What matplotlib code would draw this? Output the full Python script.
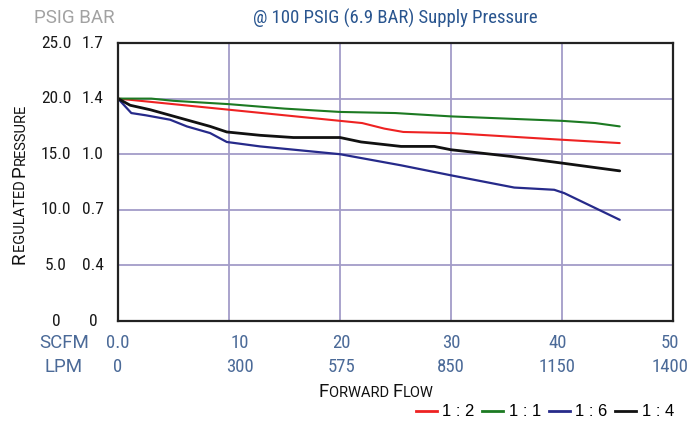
import numpy as np
import matplotlib
matplotlib.use("Agg")
import matplotlib.pyplot as plt
import matplotlib.transforms as mtransforms
from matplotlib.lines import Line2D

# flow in SCFM, pressure in PSIG
flow_11 = [0, 3, 5, 10, 15, 20, 25, 30, 35, 40, 43, 45.2]
psig_11 = [20.0, 20.0, 19.8, 19.5, 19.1, 18.8, 18.7, 18.4, 18.2, 18.0, 17.8, 17.5]

flow_12 = [0, 5, 10, 15, 20, 22, 24, 25.7, 30, 35, 40, 45.2]
psig_12 = [20.0, 19.5, 19.0, 18.5, 18.0, 17.8, 17.3, 17.0, 16.9, 16.6, 16.3, 16.0]

flow_14 = [0, 1.1, 2.9, 4.7, 6.5, 8.3, 9.8, 12.8, 15.8, 20, 21.9, 25.5, 28.5, 30, 35.4, 40, 45.2]
psig_14 = [20.0, 19.4, 19.0, 18.5, 18.0, 17.5, 17.0, 16.7, 16.5, 16.5, 16.1, 15.7, 15.7, 15.4, 14.8, 14.2, 13.5]

flow_16 = [0, 1.2, 2.5, 4.7, 6.2, 8.3, 9.8, 12.8, 20, 25.5, 30, 35.7, 39.3, 40.2, 45.2]
psig_16 = [20.0, 18.7, 18.5, 18.1, 17.5, 16.9, 16.1, 15.7, 15.0, 14.0, 13.1, 12.0, 11.8, 11.5, 9.1]

psig_ticks = [0, 5, 10, 15, 20, 25]
psig_labels = ["0", "5.0", "10.0", "15.0", "20.0", "25.0"]
bar_labels = ["0", "0.4", "0.7", "1.0", "1.4", "1.7"]

scfm_ticks = [0, 10, 20, 30, 40, 50]
scfm_labels = ["0.0", "10", "20", "30", "40", "50"]
lpm_labels = ["0", "300", "575", "850", "1150", "1400"]
label_shift = [0, 1.0, 0.1, 0, -0.4, -0.3]  # printed labels sit a bit off the grid

series = [
    ("1 : 2", flow_12, psig_12, "#ee2222", 1.5),
    ("1 : 1", flow_11, psig_11, "#1c7a22", 1.5),
    ("1 : 6", flow_16, psig_16, "#262a8a", 1.6),
    ("1 : 4", flow_14, psig_14, "#111111", 2.0),
]

narrow = ["Roboto Condensed", "DejaVu Sans"]
wide = ["Roboto", "DejaVu Sans"]
plain = ["Liberation Sans", "DejaVu Sans"]
slate = "#4b6a98"
W, H = 689, 421

fig = plt.figure(figsize=(W / 100, H / 100), dpi=100)
ax = fig.add_axes([118 / W, 1 - 321 / H, 555 / W, 278 / H])

for name, x, y, c, lw in series:
    ax.plot(x, y, color=c, lw=lw, solid_capstyle="round", solid_joinstyle="round")

ax.set_xlim(0, 50)
ax.set_ylim(0, 25)
ax.set_xticks(scfm_ticks)
ax.set_yticks(psig_ticks)
ax.tick_params(length=0, labelbottom=False, labelleft=False)
ax.grid(True, color="#a39cc8", lw=1.3)
ax.set_axisbelow(True)
for s in ax.spines.values():
    s.set_linewidth(1.6)
    s.set_color("#222222")

# y tick labels (two columns)
ty = mtransforms.blended_transform_factory(fig.transFigure, ax.transData)
for v, p, b in zip(psig_ticks, psig_labels, bar_labels):
    ax.text(56 / W, v, p, transform=ty, ha="center", va="center",
            fontsize=12.5, family=narrow, color="#1a1a1a")
    ax.text(93 / W, v, b, transform=ty, ha="center", va="center",
            fontsize=12.5, family=narrow, color="#1a1a1a")
fig.text(74 / W, 1 - 18 / H, "PSIG BAR", ha="center", va="center",
         fontsize=13.5, family=wide, color="#a2a2a2")

# x tick labels (SCFM and LPM rows)
tx = mtransforms.blended_transform_factory(ax.transData, fig.transFigure)
for v, sh, s, l in zip(scfm_ticks, label_shift, scfm_labels, lpm_labels):
    ax.text(v + sh, 1 - 343 / H, s, transform=tx, ha="center", va="center",
            fontsize=13.5, family=narrow, color=slate, clip_on=False)
    ax.text(v + sh, 1 - 367 / H, l, transform=tx, ha="center", va="center",
            fontsize=13.5, family=narrow, color=slate, clip_on=False)
fig.text(64 / W, 1 - 343 / H, "SCFM", ha="center", va="center",
         fontsize=13.5, family=wide, color=slate)
fig.text(64 / W, 1 - 367 / H, "LPM", ha="center", va="center",
         fontsize=13.5, family=wide, color=slate)

fig.text(395 / W, 1 - 18 / H, "@ 100 PSIG (6.9 BAR) Supply Pressure",
         ha="center", va="center", fontsize=13.5, family=narrow, color="#29558f")


def small_caps(parts, cx, cy, rotation=0):
    # parts: list of (text, size); centred on cx / cy pixels, baseline through the other
    renderer = fig.canvas.get_renderer()
    items = []
    total = 0
    for txt, size in parts:
        t = fig.text(0, 0, txt, fontsize=size, family=wide, color="#111111",
                     ha="left", va="baseline", rotation=rotation,
                     rotation_mode="anchor", transform=None)
        bb = t.get_window_extent(renderer)
        w = bb.height if rotation else bb.width
        items.append((t, w))
        total += w
    pos = -total / 2
    for t, w in items:
        if rotation:
            t.set_position((cx, (H - cy) + pos))
        else:
            t.set_position((cx + pos, H - cy))
        pos += w


small_caps([("F", 13.5), ("ORWARD ", 10.5), ("F", 13.5), ("LOW", 10.5)], 376, 397)
small_caps([("R", 13.5), ("EGULATED ", 10.5), ("P", 13.5), ("RESSURE", 10.5)], 25, 184, rotation=90)

handles = [Line2D([], [], color=c, lw=2.0) for _, _, _, c, _ in series]
fig.legend(handles, [n for n, _, _, _, _ in series], loc="center right",
           bbox_to_anchor=(674 / W, 1 - 412 / H), ncol=4, frameon=False,
           prop={"family": plain, "size": 12}, handlelength=1.25,
           handletextpad=0.35, columnspacing=0.45, borderpad=0, borderaxespad=0)

fig.savefig("out.png", dpi=100)
